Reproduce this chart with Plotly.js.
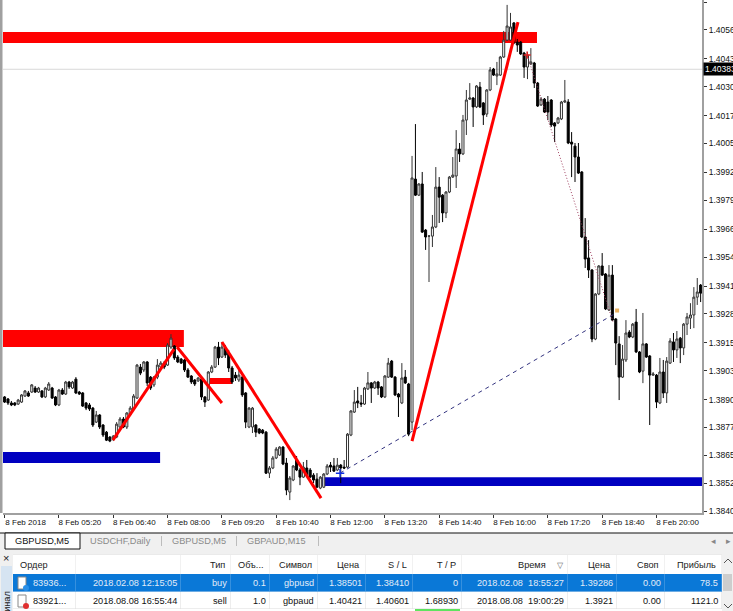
<!DOCTYPE html>
<html>
<head>
<meta charset="utf-8">
<script src="https://cdn.plot.ly/plotly-3.0.1.min.js"></script>
<style>html,body{margin:0;padding:0;background:#fff;overflow:hidden}</style>
</head>
<body>
<div id="chart" style="width:733px;height:611px"></div>
<script>
//------------------------------------GBPUSD M5 candles---------------------------------------------------//
var open_p = [1.38912,1.38903,1.38885,1.38885,1.38880,1.38889,1.38916,1.38930,1.38934,1.38952,
1.38934,1.38939,1.38912,1.38943,1.38952,1.38912,1.38876,1.38943,1.38925,1.38979,
1.38952,1.38992,1.38934,1.38930,1.38885,1.38876,1.38862,1.38799,1.38831,1.38786,
1.38754,1.38732,1.38723,1.38732,1.38777,1.38813,1.38777,1.38835,1.38858,1.38907,
1.39046,1.39033,1.39069,1.39001,1.38966,1.39001,1.39046,1.39064,1.39055,1.39136,
1.39141,1.39091,1.39082,1.39078,1.39033,1.39006,1.38988,1.38984,1.38992,1.38912,
1.38898,1.39024,1.39046,1.39136,1.39091,1.39132,1.39109,1.39042,1.39010,1.38988,
1.39001,1.38930,1.38777,1.38777,1.38786,1.38768,1.38763,1.38754,1.38570,1.38593,
1.38638,1.38651,1.38687,1.38615,1.38485,1.38539,1.38629,1.38584,1.38552,1.38593,
1.38584,1.38561,1.38543,1.38503,1.38507,1.38566,1.38606,1.38602,1.38584,1.38606,
1.38597,1.38597,1.38741,1.38844,1.38894,1.38885,1.38880,1.38948,1.38975,1.38952,
1.38979,1.38957,1.38912,1.39001,1.39073,1.39001,1.38925,1.38885,1.39001,1.38970,
1.38799,1.39890,1.39818,1.39868,1.39661,1.39634,1.39634,1.39675,1.39854,1.39818,
1.39738,1.39832,1.39899,1.39904,1.40025,1.40003,1.40155,1.40249,1.40254,1.40214,
1.40303,1.40232,1.40182,1.40290,1.40384,1.40353,1.40357,1.40438,1.40514,1.40514,
1.40591,1.40505,1.40505,1.40456,1.40393,1.40407,1.40411,1.40321,1.40223,1.40249,
1.40236,1.40245,1.40142,1.40142,1.40160,1.40236,1.40236,1.40056,1.40038,1.39989,
1.39922,1.39630,1.39536,1.39482,1.39172,1.39374,1.39500,1.39464,1.39302,1.39459,
1.39262,1.39150,1.39001,1.39078,1.39203,1.39181,1.39248,1.39114,1.39028,1.39150,
1.39096,1.39010,1.39010,1.38885,1.39024,1.38930,1.39064,1.39159,1.39123,1.39176,
1.39132,1.39239,1.39266,1.39280,1.39360,1.39414];

var close_p = [1.38889,1.38885,1.38876,1.38876,1.38898,1.38921,1.38939,1.38916,1.38966,1.38934,
1.38952,1.38912,1.38952,1.38970,1.38907,1.38876,1.38943,1.38925,1.38979,1.38957,
1.38979,1.38930,1.38925,1.38871,1.38862,1.38858,1.38786,1.38831,1.38777,1.38741,
1.38718,1.38714,1.38736,1.38790,1.38813,1.38777,1.38840,1.38862,1.38916,1.39055,
1.39019,1.39069,1.38975,1.38952,1.39001,1.39055,1.39064,1.39046,1.39145,1.39176,
1.39087,1.39069,1.39064,1.39033,1.39001,1.38979,1.38970,1.38997,1.38912,1.38889,
1.39024,1.39046,1.39136,1.39087,1.39136,1.39100,1.39042,1.38979,1.38997,1.39010,
1.38921,1.38799,1.38862,1.38862,1.38754,1.38750,1.38750,1.38570,1.38593,1.38638,
1.38678,1.38687,1.38611,1.38494,1.38548,1.38602,1.38584,1.38552,1.38597,1.38561,
1.38552,1.38539,1.38507,1.38552,1.38566,1.38602,1.38597,1.38579,1.38606,1.38593,
1.38593,1.38745,1.38849,1.38889,1.38885,1.38880,1.38952,1.38975,1.38952,1.38979,
1.38952,1.38912,1.39006,1.39064,1.39001,1.38921,1.38912,1.38997,1.38975,1.38745,
1.39895,1.39818,1.39868,1.39652,1.39630,1.39634,1.39675,1.39854,1.39809,1.39738,
1.39832,1.39899,1.39908,1.40025,1.40003,1.40155,1.40245,1.40254,1.40214,1.40308,
1.40214,1.40178,1.40290,1.40380,1.40357,1.40362,1.40438,1.40514,1.40577,1.40573,
1.40501,1.40492,1.40452,1.40393,1.40447,1.40416,1.40321,1.40218,1.40249,1.40191,
1.40191,1.40133,1.40128,1.40164,1.40236,1.40241,1.40052,1.40047,1.39989,1.39917,
1.39630,1.39531,1.39482,1.39172,1.39374,1.39500,1.39459,1.39307,1.39459,1.39257,
1.39154,1.39001,1.39082,1.39199,1.39181,1.39239,1.39114,1.39024,1.39150,1.39091,
1.39010,1.39015,1.38889,1.39024,1.38930,1.39073,1.39163,1.39123,1.39172,1.39132,
1.39239,1.39271,1.39280,1.39360,1.39383,1.39378];

var high_p = [1.38916,1.38907,1.38894,1.38889,1.38903,1.38925,1.38943,1.38939,1.38970,1.38961,
1.38957,1.38943,1.38957,1.38979,1.38957,1.38916,1.38948,1.38952,1.38984,1.38984,
1.38984,1.39001,1.38939,1.38934,1.38889,1.38885,1.38867,1.38849,1.38835,1.38790,
1.38759,1.38736,1.38741,1.38799,1.38822,1.38822,1.38844,1.38871,1.38925,1.39060,
1.39060,1.39073,1.39073,1.39006,1.39006,1.39082,1.39073,1.39073,1.39154,1.39194,
1.39145,1.39100,1.39087,1.39082,1.39042,1.39010,1.38992,1.39001,1.38997,1.38916,
1.39028,1.39055,1.39141,1.39159,1.39159,1.39145,1.39123,1.39051,1.39024,1.39033,
1.39006,1.38934,1.38867,1.38867,1.38790,1.38772,1.38768,1.38759,1.38602,1.38647,
1.38687,1.38691,1.38691,1.38638,1.38557,1.38606,1.38647,1.38593,1.38620,1.38629,
1.38593,1.38570,1.38570,1.38557,1.38570,1.38611,1.38620,1.38638,1.38638,1.38611,
1.38629,1.38750,1.38853,1.38943,1.38957,1.38921,1.38957,1.39024,1.38979,1.38984,
1.38984,1.38961,1.39010,1.39087,1.39078,1.39006,1.38930,1.39064,1.39033,1.38975,
1.39994,1.40137,1.39872,1.39922,1.39666,1.39639,1.39729,1.39944,1.39899,1.39823,
1.39836,1.39904,1.39989,1.40110,1.40052,1.40178,1.40290,1.40321,1.40258,1.40312,
1.40326,1.40236,1.40294,1.40393,1.40389,1.40416,1.40443,1.40555,1.40672,1.40636,
1.40595,1.40519,1.40510,1.40461,1.40461,1.40478,1.40416,1.40326,1.40258,1.40254,
1.40263,1.40249,1.40146,1.40169,1.40241,1.40335,1.40249,1.40101,1.40052,1.40052,
1.39926,1.39715,1.39616,1.39486,1.39378,1.39504,1.39558,1.39468,1.39504,1.39504,
1.39266,1.39185,1.39145,1.39257,1.39212,1.39244,1.39307,1.39118,1.39289,1.39154,
1.39100,1.39024,1.39015,1.39087,1.39078,1.39091,1.39176,1.39199,1.39208,1.39181,
1.39244,1.39289,1.39333,1.39405,1.39446,1.39419];

var low_p = [1.38885,1.38876,1.38871,1.38871,1.38876,1.38885,1.38912,1.38912,1.38930,1.38930,
1.38930,1.38907,1.38907,1.38939,1.38903,1.38871,1.38871,1.38921,1.38921,1.38948,
1.38948,1.38925,1.38921,1.38867,1.38853,1.38849,1.38777,1.38795,1.38768,1.38732,
1.38714,1.38709,1.38714,1.38727,1.38772,1.38772,1.38768,1.38831,1.38853,1.38903,
1.39010,1.39024,1.38961,1.38943,1.38957,1.38992,1.39042,1.39037,1.39051,1.39127,
1.39078,1.39064,1.39060,1.39024,1.38997,1.38970,1.38961,1.38979,1.38898,1.38867,
1.38894,1.39019,1.39042,1.39055,1.39087,1.39087,1.39024,1.38970,1.38984,1.38979,
1.38912,1.38772,1.38772,1.38750,1.38732,1.38745,1.38745,1.38566,1.38548,1.38588,
1.38633,1.38647,1.38606,1.38471,1.38449,1.38534,1.38579,1.38516,1.38548,1.38557,
1.38548,1.38525,1.38503,1.38498,1.38503,1.38561,1.38575,1.38575,1.38579,1.38525,
1.38588,1.38593,1.38736,1.38840,1.38862,1.38867,1.38876,1.38943,1.38885,1.38948,
1.38921,1.38907,1.38907,1.38997,1.38997,1.38916,1.38822,1.38880,1.38970,1.38736,
1.38763,1.39814,1.39814,1.39648,1.39572,1.39428,1.39585,1.39670,1.39693,1.39697,
1.39715,1.39827,1.39895,1.39850,1.39967,1.39998,1.40088,1.40245,1.40124,1.40209,
1.40209,1.40133,1.40169,1.40285,1.40353,1.40312,1.40353,1.40434,1.40510,1.40510,
1.40496,1.40461,1.40447,1.40344,1.40339,1.40402,1.40299,1.40214,1.40218,1.40187,
1.40155,1.40124,1.40056,1.40137,1.40155,1.40232,1.40047,1.39899,1.39877,1.39913,
1.39625,1.39491,1.39446,1.39158,1.39167,1.39369,1.39455,1.39302,1.39298,1.39253,
1.39055,1.38898,1.38997,1.39069,1.39176,1.39176,1.39109,1.39019,1.38974,1.39087,
1.38786,1.39006,1.38862,1.38880,1.38907,1.38885,1.39060,1.39069,1.39087,1.39064,
1.39100,1.39190,1.39217,1.39221,1.39325,1.39338];

var bar_no = open_p.map(function(v,i){return i;});

//------------------------------------axis ticks---------------------------------------------------//
var y_ticks = [1.40685,1.40560,1.40430,1.40305,1.40175,1.40050,1.39920,1.39795,1.39665,1.39540,
1.39410,1.39285,1.39155,1.39030,1.38900,1.38775,1.38650,1.38525,1.38400];
var y_labels = y_ticks.map(function(v){return v.toFixed(5);});
var x_ticks = [0,16,32,48,64,80,96,112,128,144,160,176,192];
var x_labels = ['8 Feb 2018','8 Feb 05:20','8 Feb 06:40','8 Feb 08:00','8 Feb 09:20','8 Feb 10:40',
'8 Feb 12:00','8 Feb 13:20','8 Feb 14:40','8 Feb 16:00','8 Feb 17:20','8 Feb 18:40','8 Feb 20:00'];
var last_price = 1.40383;

//------------------------------------zones and trend lines (bar number, price)---------------------------------//
var red_zones = [[-0.5,156.8,1.40550,1.40501],[-0.5,52.8,1.39212,1.39136],[60.5,67.0,1.38997,1.38970]];
var blue_zones = [[-0.5,45.8,1.38665,1.38615],[93.5,205.5,1.38552,1.38512]];
var trend_x = [[31.9,49.9],[50.8,64.0],[64.0,93.2],[120.0,151.2]];
var trend_y = [[1.38718,1.39127],[1.39136,1.38885],[1.39159,1.38458],[1.38714,1.40595]];
var order_buy_x = [98.8,180.1];
var order_buy_y = [1.38570,1.39289];
var order_sell_x = [153.9,179.2];
var order_sell_y = [1.40447,1.39248];

//------------------------------------orders table---------------------------------------------------//
var col_head = ['Ордер','','Тип','Объ...','Символ','Цена','S / L','T / P','Время','Цена','Своп','Прибыль'];
var col_order = ['83936...','83921...'];
var col_open = ['2018.02.08 12:15:05','2018.08.08 16:55:44'];
var col_type = ['buy','sell'];
var col_vol = ['0.1','1.0'];
var col_sym = ['gbpusd','gbpaud'];
var col_price = ['1.38501','1.40421'];
var col_sl = ['1.38410','1.40601'];
var col_tp = ['0','1.68930'];
var col_time = ['2018.02.08 &nbsp;18:55:27','2018.08.08 &nbsp;19:00:29'];
var col_cur = ['1.39286','1.3921'];
var col_swap = ['0.00','0.00'];
var col_profit = ['78.5','1121.0'];
var col_edges = [13,76,181,231,270,318,366,413,462,568,617,665,722];

var font_ui = 'Liberation Sans, Arial, sans-serif';

function pxX(x){return x/733;}
function pxY(y){return 1-y/611;}

var trace_candles = {
  x:bar_no, open:open_p, high:high_p, low:low_p, close:close_p,
  type:'candlestick',
  whiskerwidth:0,
  increasing:{line:{color:'#333',width:1},fillcolor:'#fff'},
  decreasing:{line:{color:'#000',width:1},fillcolor:'#000'},
  hoverinfo:'skip'
};

var data = [trace_candles];

trend_x.forEach(function(tx,i){
  data.push({x:tx,y:trend_y[i],mode:'lines',type:'scatter',line:{color:'#ff0000',width:3},hoverinfo:'skip'});
});
data.push({x:order_buy_x,y:order_buy_y,mode:'lines',type:'scatter',line:{color:'#33337f',width:1,dash:'4px,4px'},hoverinfo:'skip'});
data.push({x:order_sell_x,y:order_sell_y,mode:'lines',type:'scatter',line:{color:'#a04060',width:1,dash:'1px,2px'},hoverinfo:'skip'});
data.push({x:[order_buy_x[0]],y:[order_buy_y[0]],mode:'markers',type:'scatter',marker:{symbol:'cross-thin',size:6,line:{color:'#1030e0',width:1.5}},hoverinfo:'skip'});
data.push({x:[order_sell_x[0]],y:[order_sell_y[0]],mode:'markers',type:'scatter',marker:{symbol:'cross-thin',size:5,line:{color:'#e02020',width:1.5}},hoverinfo:'skip'});
data.push({x:[180.4],y:[1.39300],mode:'markers',type:'scatter',marker:{symbol:'square',size:4,color:'#e8b060'},hoverinfo:'skip'});

//------------------------------------shapes---------------------------------------------------//
var shapes = [];
shapes.push({type:'line',layer:'below',xref:'paper',yref:'y',x0:pxX(3),x1:pxX(702),y0:last_price,y1:last_price,line:{color:'#d8d8d8',width:1}});
red_zones.forEach(function(z){
  shapes.push({type:'rect',layer:'below',xref:'x',yref:'y',x0:z[0],x1:z[1],y0:z[2],y1:z[3],fillcolor:'#ff0000',line:{width:0}});
});
blue_zones.forEach(function(z){
  shapes.push({type:'rect',layer:'below',xref:'x',yref:'y',x0:z[0],x1:z[1],y0:z[2],y1:z[3],fillcolor:'#0000c0',line:{width:0}});
});

// window chrome below the chart, in paper coordinates
function box(x0,y0,x1,y1,fill,lineColor){
  shapes.push({type:'rect',xref:'paper',yref:'paper',x0:pxX(x0),x1:pxX(x1),y0:pxY(y1),y1:pxY(y0),
    fillcolor:fill,line:{color:lineColor||fill,width:lineColor?1:0}});
}
function chevron(x,y,dir){
  shapes.push({type:'path',xref:'paper',yref:'paper',
    path:'M'+pxX(x-4)+','+pxY(y+dir*2)+' L'+pxX(x)+','+pxY(y-dir*2)+' L'+pxX(x+4)+','+pxY(y+dir*2),
    line:{color:'#555',width:1}});
}
box(0,0,2.5,513,'#a0a0a0');
box(0,533,733,555,'#f0f0f0');
box(0,555,13,611,'#f0f0f0');
box(1,566,12,611,'#d6e4f2');
box(722,553,733,611,'#f0f0f0');
box(723,574,732,591,'#cdcdcd');
box(0,532.5,733,533.5,'#111');
box(5,533,80,549,'#ffffff','#111');
box(161,536,161.6,546,'#999');
box(236,536,236.6,546,'#999');
box(318,536,318.6,546,'#999');
chevron(728,561,1);
chevron(728,606,-1);

// table rows and column separators
box(13,574,722,592,'#0a78d7');
box(13,591.5,722,592,'#cfe0f0');
box(13,608.5,722,609,'#dcdcdc');
box(13,554.5,722,555,'#e4e4e4');
col_edges.forEach(function(e,i){
  if (i==0) return;
  box(e-0.5,555,e,574,'#e4e4e4');
  box(e-0.5,574,e,592,'#62a8e6');
  box(e-0.5,592,e,609,'#dcdcdc');
});
box(415,609,460,611,'#5fe35f');

// order icons
box(18,577,26,589,'#ffffff','#888');
box(18,595,26,607,'#ffffff','#888');
shapes.push({type:'circle',xref:'paper',yref:'paper',x0:pxX(23),x1:pxX(29),y0:pxY(591),y1:pxY(585),fillcolor:'#2a90e8',line:{width:0}});
shapes.push({type:'circle',xref:'paper',yref:'paper',x0:pxX(23),x1:pxX(29),y0:pxY(609),y1:pxY(603),fillcolor:'#e03030',line:{width:0}});

//------------------------------------annotations---------------------------------------------------//
function note(text,x,y,size,color,extra){
  var a = {text:text,xref:'paper',yref:'paper',x:pxX(x),y:pxY(y),showarrow:false,borderpad:0,
    font:{family:font_ui,size:size,color:color},xanchor:'center',yanchor:'middle'};
  for (var k in extra) a[k]=extra[k];
  return a;
}
var notes = [
  note('GBPUSD,M5',42,541,9.2,'#111'),
  note('USDCHF,Daily',120,541,9.2,'#8a8a8a'),
  note('GBPUSD,M5',199,541,9.2,'#8a8a8a'),
  note('GBPAUD,M15',276,541,9.2,'#8a8a8a'),
  note('×',6,558,11,'#222'),
  note('◂',713,541,9,'#888'),
  note('▸',728,541,9,'#888'),
  note('▽',560,565,8,'#666'),
  note('Терминал',6.5,613,9.2,'#222',{textangle:-90}),
  {text:'1.40383',xref:'paper',yref:'y',x:pxX(703),y:last_price,showarrow:false,xanchor:'left',yanchor:'middle',
   bgcolor:'#000',borderpad:1,font:{family:font_ui,size:8.5,color:'#fff'}}
];

var col_cells = [col_order,col_open,col_type,col_vol,col_sym,col_price,col_sl,col_tp,col_time,col_cur,col_swap,col_profit];
var row_mid = [583,601];
var row_color = ['#e2ecf7','#111'];
col_head.forEach(function(h,c){
  if (c==0){
    notes.push(note(h,19,565,9.2,'#222',{xanchor:'left'}));
    notes.push(note(col_cells[0][0],32,row_mid[0],9.2,row_color[0],{xanchor:'left'}));
    notes.push(note(col_cells[0][1],32,row_mid[1],9.2,row_color[1],{xanchor:'left'}));
    return;
  }
  var right = col_edges[c+1];
  if (h!='') notes.push(note(h,(c==8?547:right-5),565,9.2,'#222',{xanchor:'right'}));
  notes.push(note(col_cells[c][0],right-3,row_mid[0],9.2,row_color[0],{xanchor:'right'}));
  notes.push(note(col_cells[c][1],right-3,row_mid[1],9.2,row_color[1],{xanchor:'right'}));
});

var layout = {
  width:733,
  height:611,
  margin:{l:0,r:0,t:0,b:0,pad:0},
  paper_bgcolor:'#fff',
  plot_bgcolor:'#fff',
  showlegend:false,
  hovermode:false,
  boxgap:0.15,
  xaxis:{
    domain:[pxX(3),pxX(702)],
    range:[-0.47,205.4],
    rangeslider:{visible:false},
    tickmode:'array',tickvals:x_ticks,ticktext:x_labels,
    ticks:'outside',ticklen:3,tickcolor:'#333',tickwidth:1,
    ticklabelshift:21,ticklabelstandoff:-3,
    tickangle:0,
    showgrid:false,zeroline:false,showline:true,linecolor:'#a0a0a0',linewidth:2,
    tickfont:{family:font_ui,size:8,color:'#111'},fixedrange:true
  },
  yaxis:{
    domain:[pxY(513),1],
    range:[1.38391,1.40694],
    side:'right',
    tickmode:'array',tickvals:y_ticks,ticktext:y_labels,
    ticks:'outside',ticklen:3,tickcolor:'#333',tickwidth:1,
    showgrid:false,zeroline:false,showline:true,linecolor:'#a0a0a0',linewidth:2,
    tickfont:{family:font_ui,size:8.5,color:'#111'},fixedrange:true
  },
  shapes:shapes,
  annotations:notes
};

var config = {responsive:false,displayModeBar:false};
Plotly.newPlot("chart",data,layout,config);
</script>
</body>
</html>
